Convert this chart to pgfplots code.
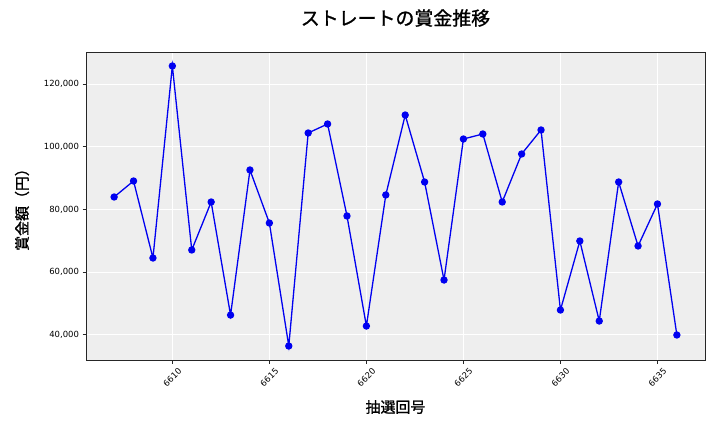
\documentclass[border=0pt]{standalone}
\usepackage{fontspec}
\setmainfont{DejaVu Sans}
\newfontfamily\cjk{Noto Sans CJK JP}
\newfontfamily\cjkb[FakeBold=1.2]{Noto Sans CJK JP}
\usepackage{pgfplots}
\pgfplotsset{compat=1.18}
\definecolor{bgc}{RGB}{238,238,238}
\definecolor{lineblue}{RGB}{0,0,240}
\begin{document}
\begin{tikzpicture}
\path[use as bounding box] (0bp,0bp) rectangle (720bp,432bp);
\begin{axis}[
  at={(86bp,72bp)}, anchor=south west,
  scale only axis, width=619bp, height=308bp,
  xmin=6605.55, xmax=6637.45, ymin=31965, ymax=130200,
  xtick={6610,6615,6620,6625,6630,6635},
  ytick={40000,60000,80000,100000,120000},
  scaled y ticks=false,
  /pgf/number format/.cd, 1000 sep={,}, fixed, assume math mode=true,
  /pgfplots/.cd,
  axis background/.style={fill=bgc},
  grid=major,
  major grid style={white, line width=0.9bp},
  axis line style={draw=black!85, line width=0.8bp},
  tick align=outside,
  major tick length=3.5bp,
  tick style={draw=black!85, line width=0.7bp},
  xtick pos=bottom, ytick pos=left,
  tick label style={font=\fontsize{8.5}{9}\selectfont},
  xticklabel style={rotate=45, anchor=center, /pgf/number format/1000 sep={}},
  xticklabel shift=14bp,
  yticklabel style={anchor=east},
  title={\cjkb\fontsize{19}{21}\selectfont ストレートの賞金推移},
  title style={at={(axis description cs:0.5,1.0909)}, anchor=center},
  xlabel={\cjkb\fontsize{15}{17}\selectfont 抽選回号},
  xlabel style={at={(axis description cs:0.5,-0.1526)}, anchor=center},
  ylabel={\cjkb\fontsize{15}{17}\selectfont 賞金額（円）},
  ylabel style={at={(axis description cs:-0.1034,0.5)}, anchor=center},
]
\addplot[color=lineblue, line width=1.3bp, mark=*, mark size=3bp, mark options={fill=lineblue, draw=lineblue}] coordinates {
(6607,83955) (6608,89060) (6609,64500) (6610,125740) (6611,67050)
(6612,82360) (6613,46300) (6614,92570) (6615,75660) (6616,36430)
(6617,104370) (6618,107240) (6619,77900) (6620,42800) (6621,84600)
(6622,110100) (6623,88740) (6624,57480) (6625,102450) (6626,104050)
(6627,82360) (6628,97670) (6629,105330) (6630,47900) (6631,69920)
(6632,44400) (6633,88740) (6634,68330) (6635,81720) (6636,39940)
};
\end{axis}
\end{tikzpicture}
\end{document}
